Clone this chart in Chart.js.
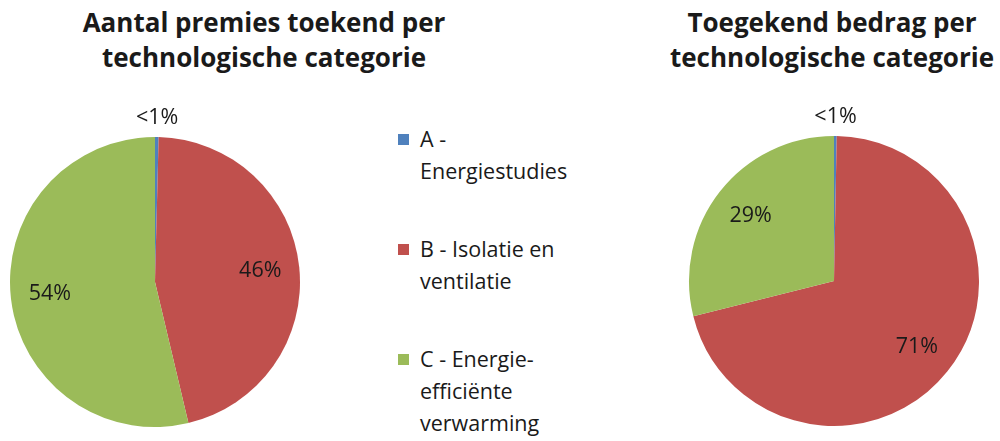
<!DOCTYPE html>
<html>
<head>
<meta charset="utf-8">
<script src="https://cdn.jsdelivr.net/npm/chart.js@4/dist/chart.umd.min.js"></script>
<style>
  body { margin: 0; background: #fff; }
  #wrap { position: relative; width: 1000px; height: 441px; overflow: hidden; font-family: "Open Sans", sans-serif; color: #1a1a1a; }
  .title { position: absolute; font-weight: bold; font-size: 26px; line-height: 35px; text-align: center; white-space: nowrap; }
  .box { position: absolute; }
  #legend { position: absolute; left: 398px; top: 123px; font-size: 21.5px; line-height: 32px; }
  #legend .item { position: relative; padding-left: 22px; width: 200px; margin-bottom: 46px; }
  #legend .sw { position: absolute; left: 0; top: 11px; width: 11px; height: 11px; }
</style>
</head>
<body>
<div id="wrap">
  <div class="title" style="left:64px; top:5px; width:400px;">Aantal premies toekend per<br>technologische categorie</div>
  <div class="title" style="left:632px; top:5px; width:400px;">Toegekend bedrag per<br>technologische categorie</div>
  <div class="box" style="left:0px; top:100px; width:310px; height:341px;"><canvas id="left"></canvas></div>
  <div class="box" style="left:680px; top:100px; width:310px; height:341px;"><canvas id="right"></canvas></div>
  <div id="legend"></div>
</div>
<script>
// categorieën en waarden (percentages)
const categories = ["A - Energiestudies", "B - Isolatie en ventilatie", "C - Energie-efficiënte verwarming"];
const legendLines = [["A -", "Energiestudies"], ["B - Isolatie en", "ventilatie"], ["C - Energie-", "efficiënte", "verwarming"]];
const aantalValues = [0.4, 45.9, 53.7];
const bedragValues = [0.3, 70.8, 28.9];
const colors = ["#4F81BD", "#C0504D", "#9BBB59"];

// labels op de taartpunten
const pctLabels = {
  id: "pctLabels",
  afterDatasetsDraw(chart) {
    const ctx = chart.ctx;
    const meta = chart.getDatasetMeta(0);
    const vals = chart.data.datasets[0].data;
    ctx.save();
    ctx.font = "21.5px 'Open Sans', sans-serif";
    ctx.fillStyle = "#1a1a1a";
    ctx.textAlign = "center";
    ctx.textBaseline = "middle";
    meta.data.forEach((arc, i) => {
      const v = vals[i];
      const mid = (arc.startAngle + arc.endAngle) / 2;
      let dist, txt;
      if (v < 1) {
        dist = arc.outerRadius + 19;
        txt = "<1%";
      } else {
        dist = arc.outerRadius * 0.73;
        txt = Math.round(v) + "%";
      }
      ctx.fillText(txt, arc.x + Math.cos(mid) * dist, arc.y + Math.sin(mid) * dist);
    });
    ctx.restore();
  }
};

function makePie(id, values, padding) {
  return new Chart(document.getElementById(id), {
    type: "pie",
    data: {
      labels: categories,
      datasets: [{
        data: values,
        backgroundColor: colors,
        borderWidth: 0
      }]
    },
    options: {
      responsive: true,
      maintainAspectRatio: false,
      animation: false,
      layout: { padding: padding },
      plugins: {
        legend: { display: false },
        tooltip: { enabled: false }
      }
    },
    plugins: [pctLabels]
  });
}

makePie("left", aantalValues, { top: 37, bottom: 14, left: 10, right: 10 });
makePie("right", bedragValues, { top: 36, bottom: 15, left: 9, right: 11 });

// legenda
const legend = document.getElementById("legend");
legendLines.forEach((lines, i) => {
  const item = document.createElement("div");
  item.className = "item";
  item.innerHTML = '<span class="sw" style="background:' + colors[i] + '"></span>' + lines.join("<br>");
  legend.appendChild(item);
});
</script>
</body>
</html>
